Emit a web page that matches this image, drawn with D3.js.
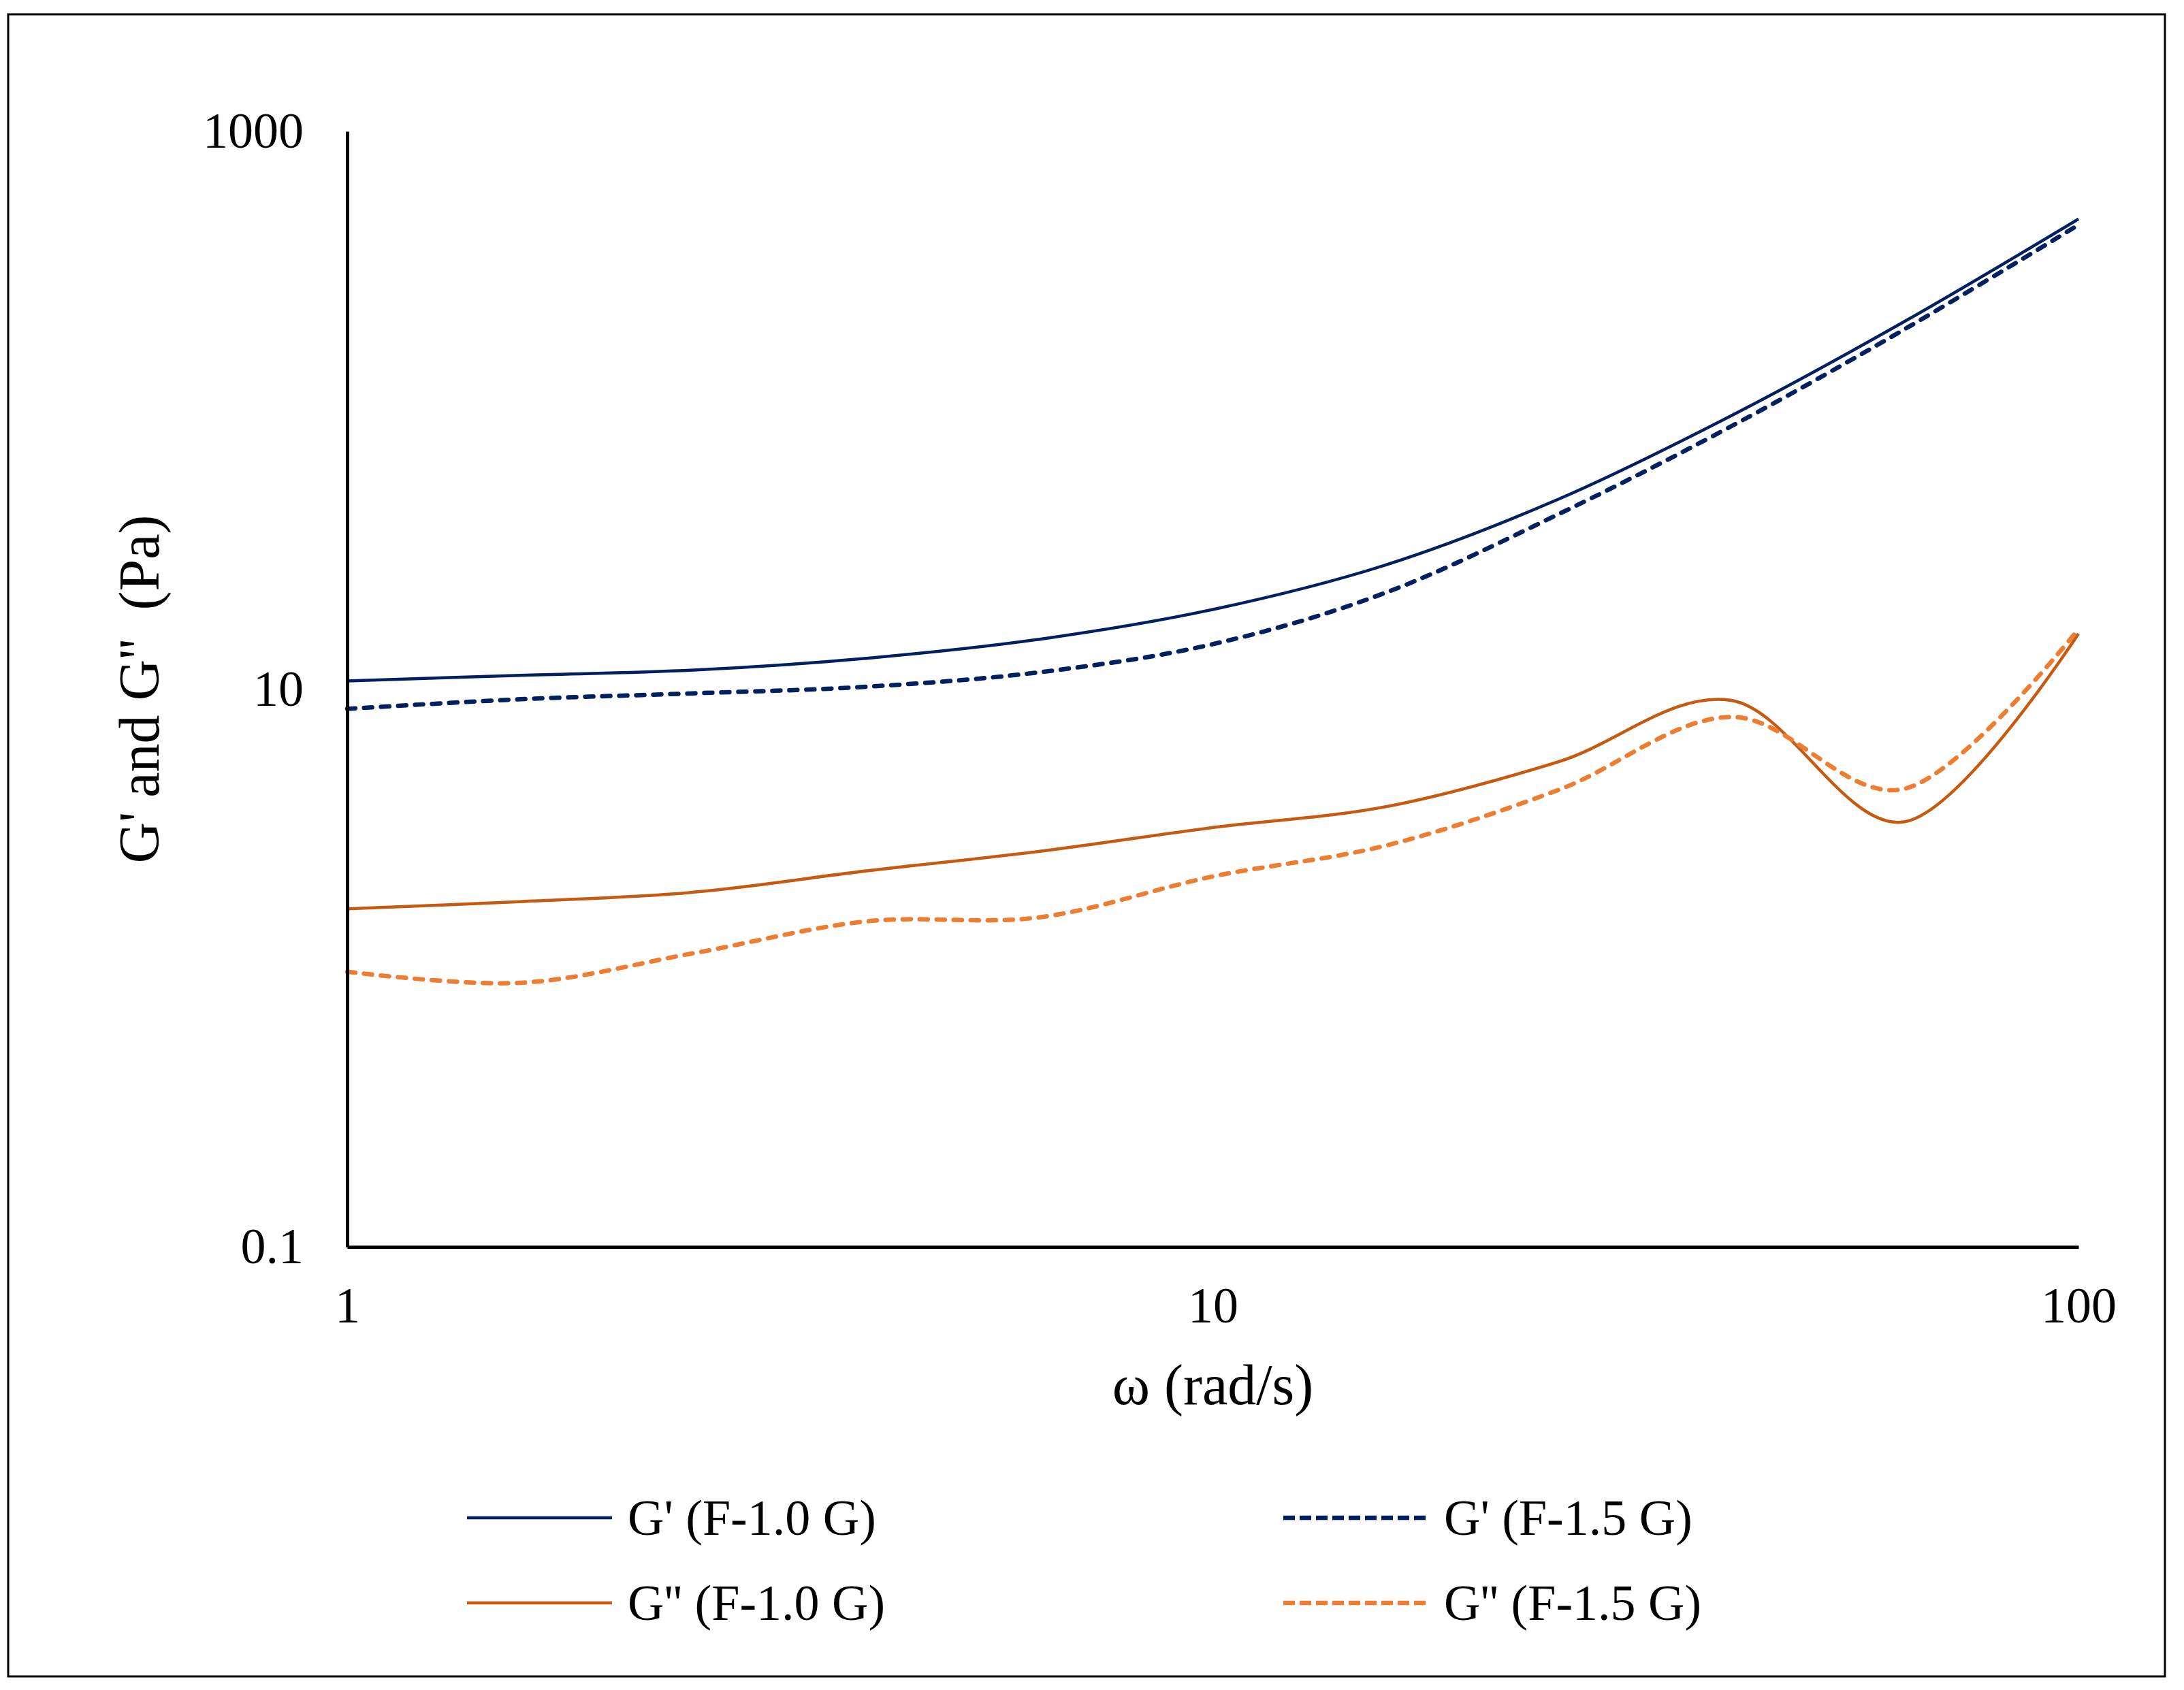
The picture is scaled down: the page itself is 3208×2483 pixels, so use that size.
<!DOCTYPE html>
<html>
<head>
<meta charset="utf-8">
<script src="https://cdn.jsdelivr.net/npm/d3@7"></script>
<style>
  html, body { margin: 0; padding: 0; background: #fff; }
  text { font-family: 'Liberation Serif', 'Times New Roman', serif; fill: #000; }
</style>
</head>
<body>
<div id="chart"></div>
<script>
// Angular frequency (rad/s), 5 points per decade
const omega = [1, 1.585, 2.512, 3.981, 6.31, 10, 15.85, 25.12, 39.81, 63.1, 100];

// Moduli (Pa)
const gPrime10 = [10.7, 11.2, 11.7, 12.9, 15.1, 19.3, 27.9, 48.1, 96, 209, 485];
const gPrime15 = [8.5, 9.2, 9.66, 10.2, 11.5, 14.5, 22.2, 42.5, 88, 196, 462];
const gDouble10 = [1.63, 1.73, 1.87, 2.23, 2.62, 3.19, 3.79, 5.5, 9.1, 3.35, 15.8];
const gDouble15 = [0.97, 0.885, 1.13, 1.47, 1.52, 2.13, 2.75, 4.36, 7.95, 4.4, 16.4];

const seriesNames = ["G' (F-1.0 G)", "G' (F-1.5 G)", "G'' (F-1.0 G)", "G'' (F-1.5 G)"];

const xTicks = [1, 10, 100];
const yTicks = [0.1, 10, 1000];

class ModulusChart {
  selection(selector) {
    this._selection = d3.select(selector);
    return this;
  }

  props = {
    width: 3208,
    height: 2483,
    margin: { top: 193, right: 155, bottom: 651, left: 510 },
    tickFont: 74,
    titleFont: 84,
    legendFont: 74,
  };

  draw() {
    const props = this.props;
    const { margin } = props;

    const series = [
      { name: seriesNames[0], values: gPrime10, color: '#002060', dashed: false },
      { name: seriesNames[1], values: gPrime15, color: '#002060', dashed: true },
      { name: seriesNames[2], values: gDouble10, color: '#C55A11', dashed: false },
      { name: seriesNames[3], values: gDouble15, color: '#ED7D31', dashed: true },
    ];

    const svg = this._selection
      .append('svg')
      .attr('width', props.width)
      .attr('height', props.height);

    svg.append('rect')
      .attr('width', props.width)
      .attr('height', props.height)
      .attr('fill', '#fff');

    // outer frame
    svg.append('rect')
      .attr('x', 12)
      .attr('y', 21)
      .attr('width', 3168)
      .attr('height', 2442)
      .attr('fill', 'none')
      .attr('stroke', '#000')
      .attr('stroke-width', 3);

    const xScale = d3.scaleLog()
      .domain([1, 100])
      .range([margin.left, props.width - margin.right]);

    const yScale = d3.scaleLog()
      .domain([0.1, 1000])
      .range([props.height - margin.bottom, margin.top]);

    const line = d3.line()
      .x((d) => xScale(d[0]))
      .y((d) => yScale(d[1]))
      .curve(d3.curveCatmullRom.alpha(0));

    const plot = svg.append('g').attr('class', 'plot');

    plot.selectAll('path.series')
      .data(series)
      .join('path')
      .attr('class', 'series')
      .attr('fill', 'none')
      .attr('stroke', (d) => d.color)
      .attr('stroke-width', (d) => (d.dashed ? 6.5 : 4.5))
      .attr('stroke-linecap', (d) => (d.dashed ? 'round' : 'butt'))
      .attr('stroke-dasharray', (d) => (d.dashed ? '12,13' : null))
      .attr('d', (d) => line(omega.map((w, i) => [w, d.values[i]])));

    // axes, no tick marks (Excel style)
    const fmt = (d) => (d < 1 ? d3.format('.1f')(d) : d3.format('d')(d));

    const yAxis = svg.append('g')
      .attr('class', 'axis y')
      .attr('transform', `translate(${margin.left},0)`)
      .call(d3.axisLeft(yScale).tickValues(yTicks).tickFormat(fmt)
        .tickSize(0).tickPadding(64));

    const xAxis = svg.append('g')
      .attr('class', 'axis x')
      .attr('transform', `translate(0,${props.height - margin.bottom})`)
      .call(d3.axisBottom(xScale).tickValues(xTicks).tickFormat(fmt)
        .tickSize(0).tickPadding(58));

    [xAxis, yAxis].forEach((ax) => {
      ax.select('.domain').attr('stroke', '#000').attr('stroke-width', 5);
      ax.selectAll('text')
        .attr('font-family', null)
        .style('font-size', `${props.tickFont}px`);
      ax.attr('font-family', null).attr('font-size', null);
    });

    // axis titles
    svg.append('text')
      .attr('x', (xScale.range()[0] + xScale.range()[1]) / 2)
      .attr('y', 2063)
      .attr('text-anchor', 'middle')
      .style('font-size', `${props.titleFont}px`)
      .text('ω (rad/s)');

    svg.append('text')
      .attr('transform', `translate(233,${(yScale.range()[0] + yScale.range()[1]) / 2}) rotate(-90)`)
      .attr('text-anchor', 'middle')
      .style('font-size', `${props.titleFont}px`)
      .style('white-space', 'pre')
      .text("G' and G''  (Pa)");

    // legend, two columns
    const legendCols = [686, 1885];
    const legendRows = [2230, 2355];

    const legend = svg.append('g').attr('class', 'legend')
      .selectAll('g')
      .data(series)
      .join('g')
      .attr('transform', (d, i) => `translate(${legendCols[i % 2]},${legendRows[Math.floor(i / 2)]})`);

    legend.append('line')
      .attr('x1', 0)
      .attr('x2', 213)
      .attr('stroke', (d) => d.color)
      .attr('stroke-width', (d) => (d.dashed ? 6.5 : 4.5))
      .attr('stroke-dasharray', (d) => (d.dashed ? '17,7' : null));

    legend.append('text')
      .attr('x', 236)
      .attr('y', 25)
      .style('font-size', `${props.legendFont}px`)
      .text((d) => d.name);

    return this;
  }
}

new ModulusChart().selection('#chart').draw();
</script>
</body>
</html>
